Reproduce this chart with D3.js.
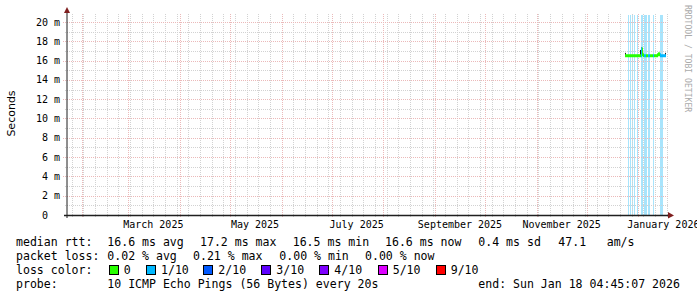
<!DOCTYPE html>
<html><head><meta charset="utf-8">
<script src="https://cdn.jsdelivr.net/npm/d3@7"></script>
<style>
body{margin:0;background:#fff}
svg{display:block}
text{font-family:"DejaVu Sans Mono",monospace;fill:#000}
</style>
</head><body>
<svg id="chart" width="697" height="297"></svg>
<script>
// ---------------- data ----------------
const timeStart = "2025-01-23T04:45:07Z";
const timeEnd   = "2026-01-18T04:45:07Z";
const yMax = 20.72;
const yMajorTicks = [0, 2, 4, 6, 8, 10, 12, 14, 16, 18, 20];
const yMinorTicks = [1, 3, 5, 7, 9, 11, 13, 15, 17, 19];
const monthLabels = ["March 2025", "May 2025", "July 2025", "September 2025", "November 2025", "January 2026"];
const monthLabelStarts = ["2025-03-01", "2025-05-01", "2025-07-01", "2025-09-01", "2025-11-01", "2026-01-01"];

// samples (one per consolidated step of 14.4 h)
const sampleStart = "2025-12-23T23:57:07Z";
const sampleStepHours = 14.4;
const medianMs = [16.5,16.5,16.5,16.5,16.5,16.5,16.5,16.5,16.5,16.5,
                  16.5,16.5,16.5,16.5,16.5,16.5,17.2,16.6,16.5,16.5,
                  16.5,16.5,16.5,16.5,16.5,16.5,16.5,16.5,16.5,16.5,
                  16.5,16.5,16.6,16.7,16.6,16.5,16.5,16.5,16.5,16.5,16.5];
const lineLoss  = [0,0,0,0,0,0,0,0,0,0, 0,0,0,0,0,0,1,0,0,1, 1,0,0,1,1,0,0,0,1,0, 0,0,0,0,0,1,1,1,1,1,1];
const bandLoss  = [0,0,0,1,0,1,0,1,0,1, 0,0,1,0,0,0,1,1,0,1, 1,1,0,1,1,0,0,0,1,0, 0,0,0,0,0,1,1,1,0,0,0];
// smoke (ping spread) for a few samples: index, low, high (ms)
const smokeIndex = [0, 15, 16, 40];
const smokeLow   = [16.4, 16.5, 16.5, 16.4];
const smokeHigh  = [16.8, 17.1, 17.35, 16.8];

const lossNames  = ["0", "1/10", "2/10", "3/10", "4/10", "5/10", "9/10"];
const lossColors = ["#26ff00", "#00b8ff", "#0059ff", "#5e00ff", "#7e00ff", "#dd00ff", "#ff0000"];
const lossBandColor = "#a8e4fc";

const rttLegend  = ["16.6 ms avg", "17.2 ms max", "16.5 ms min", "16.6 ms now", "0.4 ms sd", "47.1", "am/s"];
const lossLegend = ["0.02 % avg", "0.21 % max", "0.00 % min", "0.00 % now"];
const probeText = "10 ICMP Echo Pings (56 Bytes) every 20s";
const endText = "end: Sun Jan 18 04:45:07 2026";

// ---------------- layout ----------------
const X0 = 67, X1 = 667, Y0 = 215, Y1 = 15;
const svg = d3.select("#chart");
svg.append("rect").attr("width", 697).attr("height", 297).attr("fill", "#fff");

const x = d3.scaleUtc().domain([new Date(timeStart), new Date(timeEnd)]).range([X0, X1]);
const y = d3.scaleLinear().domain([0, yMax]).range([Y0, Y1]);
const px = v => Math.round(v) + 0.5;

const stepMs = sampleStepHours * 3600 * 1000;
const t0 = new Date(sampleStart).getTime();
const sT = i => new Date(t0 + i * stepMs);

// loss background bands
const gBand = svg.append("g");
bandLoss.forEach((l, i) => {
  if (!l) return;
  const xa = x(sT(i)), xb = x(sT(i + 1));
  gBand.append("rect").attr("x", Math.round(xa)).attr("width", Math.max(1, Math.round(xb) - Math.round(xa)))
    .attr("y", y(yMax)).attr("height", y(0) - y(yMax)).attr("fill", lossBandColor);
});

// grid
const gGrid = svg.append("g").attr("fill", "none").attr("stroke-width", 1).attr("stroke-dasharray", "1,1");
const weeks = d3.utcSunday.range(new Date(timeStart), new Date(timeEnd));
const months = d3.utcMonth.range(new Date(timeStart), new Date(timeEnd));
const minorCol = "#d2d2d2", majorCol = "#ebb9b9";
weeks.forEach(d => gGrid.append("line").attr("x1", px(x(d))).attr("x2", px(x(d)))
  .attr("y1", Y0 + 2).attr("y2", Y1 - 2).attr("stroke", minorCol));
yMinorTicks.forEach(v => gGrid.append("line").attr("x1", X0 - 2).attr("x2", X1 + 2)
  .attr("y1", px(y(v))).attr("y2", px(y(v))).attr("stroke", minorCol));
months.forEach(d => gGrid.append("line").attr("x1", px(x(d))).attr("x2", px(x(d)))
  .attr("y1", Y0 + 2).attr("y2", Y1 - 2).attr("stroke", majorCol));
yMajorTicks.filter(v => v > 0).forEach(v => gGrid.append("line").attr("x1", X0 - 4).attr("x2", X1 + 2)
  .attr("y1", px(y(v))).attr("y2", px(y(v))).attr("stroke", majorCol));

// smoke
smokeIndex.forEach((i, k) => {
  const xa = x(sT(i));
  svg.append("rect").attr("x", Math.round(xa)).attr("width", 1)
    .attr("y", y(smokeHigh[k])).attr("height", y(smokeLow[k]) - y(smokeHigh[k])).attr("fill", "#222");
});

// median line coloured by loss
medianMs.forEach((m, i) => {
  const xa = Math.round(x(sT(i)));
  const prev = i > 0 ? medianMs[i - 1] : m;
  const top = Math.min(y(m), y(prev)) - 1.5, bot = Math.max(y(m), y(prev)) + 1.5;
  svg.append("rect").attr("x", xa).attr("width", 1).attr("y", top).attr("height", bot - top)
    .attr("fill", lossColors[lineLoss[i]]);
});

// axes
svg.append("line").attr("x1", X0 - 3).attr("x2", X1 + 4).attr("y1", Y0 + 0.5).attr("y2", Y0 + 0.5)
  .attr("stroke", "#1f1f1f").attr("stroke-width", 1.4);
svg.append("line").attr("x1", X0).attr("x2", X0).attr("y1", Y0 + 3).attr("y2", Y1 - 3)
  .attr("stroke", "#1f1f1f").attr("stroke-width", 1);
svg.append("path").attr("d", `M${X0 - 3},${Y1 - 2}L${X0 + 3},${Y1 - 2}L${X0},${Y1 - 8}Z`).attr("fill", "#7f1f1f");
svg.append("path").attr("d", `M${X1 + 1},${Y0 - 3}L${X1 + 1},${Y0 + 3.5}L${X1 + 7},${Y0 + 0.5}Z`).attr("fill", "#7f1f1f");

// y labels
yMajorTicks.forEach(v => svg.append("text").attr("x", 60).attr("y", y(v) + 3.6)
  .attr("text-anchor", "end").attr("font-size", 10).style("white-space", "pre")
  .text(v === 0 ? "0  " : v + " m"));

// x labels (centred half a month after month start)
monthLabels.forEach((lab, k) => {
  const d = new Date(monthLabelStarts[k] + "T00:00:00Z");
  svg.append("text").attr("x", x(d3.utcDay.offset(d, 15))).attr("y", 228)
    .attr("text-anchor", "middle").attr("font-size", 10).text(lab);
});

// axis title
svg.append("text").attr("transform", "translate(15,113.5) rotate(-90)").attr("text-anchor", "middle")
  .style("font-family", "'DejaVu Sans',sans-serif").attr("font-size", 11).text("Seconds");

// watermark
svg.append("text").attr("transform", "translate(685,5) rotate(90)").attr("font-size", 8.1)
  .style("fill", "#aaaaaa").text("RRDTOOL / TOBI OETIKER");

// legend
const LF = 11.55;
const leg = svg.append("g").attr("font-size", LF).style("white-space", "pre");
const rowY = [245.5, 259.5, 273.5, 287.5];
leg.append("text").attr("x", 16).attr("y", rowY[0]).text("median rtt:");
const rttX = [107.3, 200, 292.7, 385, 478.3, 558.3, 606.7];
rttLegend.forEach((s, k) => leg.append("text").attr("x", rttX[k]).attr("y", rowY[0]).text(s));
leg.append("text").attr("x", 16).attr("y", rowY[1]).text("packet loss:");
const lossX = [107.3, 193, 279.3, 365];
lossLegend.forEach((s, k) => leg.append("text").attr("x", lossX[k]).attr("y", rowY[1]).text(s));
leg.append("text").attr("x", 16).attr("y", rowY[2]).text("loss color:");
const boxX = [108.7, 146, 203.3, 261.3, 319.3, 377.7, 435.7];
lossNames.forEach((s, k) => {
  leg.append("rect").attr("x", Math.round(boxX[k]) + 0.5).attr("y", 265.5).attr("width", 9).attr("height", 9)
    .attr("fill", lossColors[k]).attr("stroke", "#000").attr("stroke-width", 1);
  leg.append("text").attr("x", boxX[k] + 15).attr("y", rowY[2]).text(s);
});
leg.append("text").attr("x", 16).attr("y", rowY[3]).text("probe:");
leg.append("text").attr("x", 107.3).attr("y", rowY[3]).text(probeText);
leg.append("text").attr("x", 478.3).attr("y", rowY[3]).text(endText);
</script>
</body></html>
